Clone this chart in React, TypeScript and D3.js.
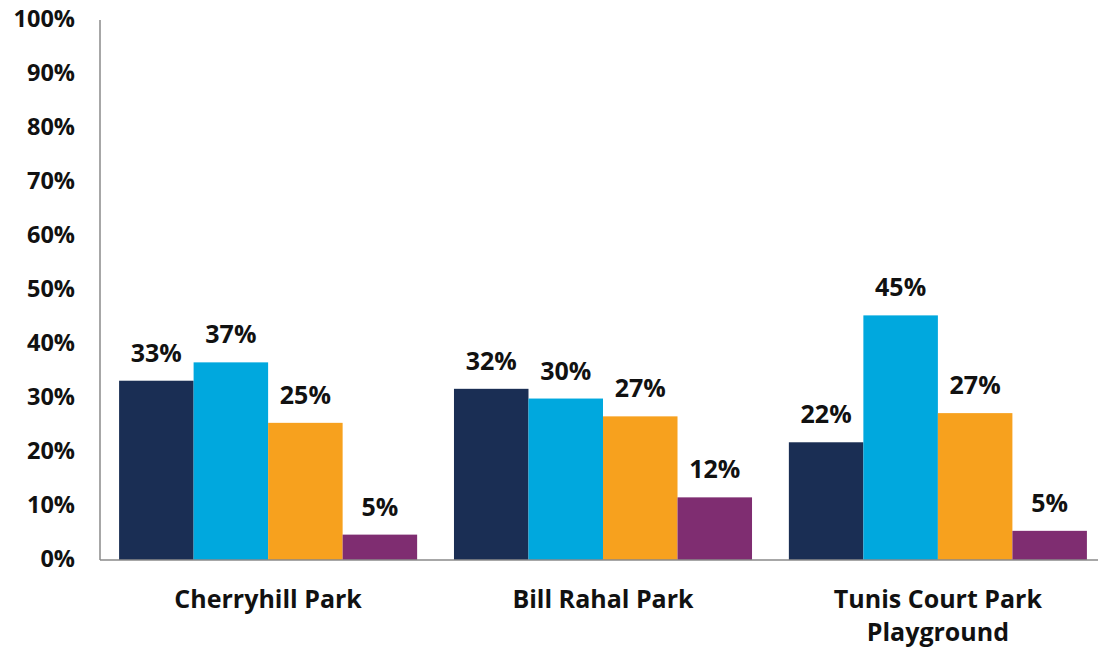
import React from "react";
import * as d3 from "d3";

const categories: string[][] = [["Cherryhill Park"], ["Bill Rahal Park"], ["Tunis Court Park", "Playground"]];
const seriesKeys = ["s1", "s2", "s3", "s4"];
const seriesColors = ["#1A2E54", "#00A8DE", "#F7A11E", "#7F2D71"];
const values: number[][] = [
  [33.2, 36.6, 25.4, 4.7],
  [31.7, 29.9, 26.6, 11.6],
  [21.8, 45.3, 27.2, 5.4],
];
const yTicks = [0, 10, 20, 30, 40, 50, 60, 70, 80, 90, 100];

const W = 1098;
const H = 648;
const FONT = "'Open Sans', 'Noto Sans', sans-serif";

export default function App() {
  const x0 = d3
    .scaleBand<number>()
    .domain(d3.range(categories.length))
    .range([100, 1106])
    .paddingInner(0.11)
    .paddingOuter(0.057);
  const x1 = d3
    .scaleBand<string>()
    .domain(seriesKeys)
    .range([0, x0.bandwidth()])
    .padding(0);
  const y = d3.scaleLinear().domain([0, 100]).range([560, 20]);

  return (
    <svg
      width={W}
      height={H}
      style={{ position: "absolute", left: 0, top: 0, background: "#fff" }}
      fontFamily={FONT}
    >
      {yTicks.map((t) => (
        <text
          key={t}
          x={75}
          y={y(t) + 1}
          textAnchor="end"
          dominantBaseline="middle"
          fontSize={23.5}
          fontWeight={700}
          fill="#111"
        >
          {t}%
        </text>
      ))}
      {values.map((row, gi) => (
        <g key={gi} transform={`translate(${x0(gi)},0)`}>
          {row.map((v, si) => (
            <g key={si}>
              <rect
                x={x1(seriesKeys[si])}
                y={y(v)}
                width={x1.bandwidth()}
                height={y(0) - y(v)}
                fill={seriesColors[si]}
              />
              <text
                x={(x1(seriesKeys[si]) as number) + x1.bandwidth() / 2}
                y={y(v) - 19}
                textAnchor="middle"
                fontSize={25}
                fontWeight={700}
                fill="#111"
              >
                {Math.round(v)}%
              </text>
            </g>
          ))}
          {categories[gi].map((line, li) => (
            <text
              key={li}
              x={x0.bandwidth() / 2}
              y={608 + li * 33}
              textAnchor="middle"
              fontSize={25}
              fontWeight={700}
              fill="#111"
            >
              {line}
            </text>
          ))}
        </g>
      ))}
      <line x1={100} x2={100} y1={20} y2={560} stroke="#8a8a8a" strokeWidth={1.5} />
      <line x1={100} x2={W} y1={560} y2={560} stroke="#8a8a8a" strokeWidth={1.5} />
    </svg>
  );
}
